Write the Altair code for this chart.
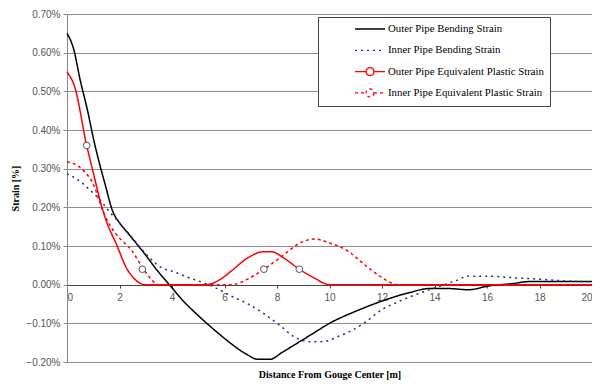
import math
import altair as alt
import pandas as pd

series_names = [
    "Outer Pipe Bending Strain",
    "Inner Pipe Bending Strain",
    "Outer Pipe Equivalent Plastic Strain",
    "Inner Pipe Equivalent Plastic Strain",
]
series_colors = ["#000000", "#2b2b8c", "#ff0000", "#ff0000"]
series_dashes = [[1, 0], [2, 4], [1, 0], [3, 3]]

# legend symbols: a short line, or a short line broken by a small ring
# (trailing move-to commands draw nothing; they keep every legend row the same height)
row_ext = "M0,0.8M0,-0.8"
line_path = "M-3,0H3" + row_ext
ring = "".join(
    ("M" if k == 0 else "L") + f"{0.8 * math.cos(k * math.pi / 8):.3f},{0.8 * math.sin(k * math.pi / 8):.3f}"
    for k in range(17)
)
marker_path = "M-3,0H-0.8M0.8,0H3" + ring + row_ext
series_symbols = [line_path, line_path, marker_path, marker_path]

outer_bend_x = [0, 0.25, 0.5, 0.8, 1.0, 1.25, 1.45, 1.74, 2.0, 2.3, 2.6, 2.9, 3.4, 3.9, 4.4, 5.0, 5.77,
                6.3, 6.79, 7.28, 7.73, 8.2, 8.8, 9.4, 10.0, 11.06, 12.06, 13.07, 13.8, 14.5, 15.3, 16.1,
                17.0, 17.6, 18.5, 20]
outer_bend_y = [0.65, 0.61, 0.53, 0.445, 0.38, 0.31, 0.26, 0.19, 0.16, 0.135, 0.11, 0.085, 0.04, 0.0,
                -0.04, -0.08, -0.126, -0.155, -0.178, -0.193, -0.193, -0.175, -0.15, -0.125, -0.10,
                -0.067, -0.041, -0.02, -0.01, -0.01, -0.013, -0.003, 0.003, 0.008, 0.008, 0.008]

inner_bend_x = [0, 0.5, 0.87, 1.25, 1.6, 2.0, 2.38, 3.0, 3.6, 4.0, 4.64, 5.2, 5.66, 6.27, 6.9, 7.5, 8.1,
                8.66, 9.3, 9.8, 10.3, 10.8, 11.3, 12.06, 12.6, 13.2, 14.08, 14.8, 15.3, 16.0, 17.0,
                18.0, 18.9, 20]
inner_bend_y = [0.287, 0.267, 0.245, 0.22, 0.19, 0.16, 0.13, 0.08, 0.044, 0.035, 0.018, 0.005, -0.008,
                -0.03, -0.05, -0.075, -0.105, -0.135, -0.148, -0.147, -0.135, -0.12, -0.10, -0.062,
                -0.045, -0.028, -0.007, 0.01, 0.022, 0.022, 0.018, 0.014, 0.01, 0.007]

outer_plastic_x = [0, 0.3, 0.75, 0.87, 1.0, 1.25, 1.5, 1.88, 2.26, 2.5, 2.75, 3.0, 5.3, 5.8, 6.27, 6.9,
                   7.47, 7.8, 8.3, 8.85, 9.4, 10.0, 20]
outer_plastic_y = [0.55, 0.51, 0.36, 0.326, 0.29, 0.22, 0.164, 0.105, 0.044, 0.02, 0.005, 0, 0, 0.012,
                   0.036, 0.07, 0.085, 0.085, 0.067, 0.04, 0.018, 0, 0]

inner_plastic_x = [0, 0.6, 1.0, 1.37, 1.62, 1.88, 2.5, 2.87, 3.13, 3.5, 6.27, 6.9, 7.5, 8.2, 8.8, 9.43,
                   10.0, 10.7, 11.3, 11.9, 12.6, 20]
inner_plastic_y = [0.318, 0.297, 0.26, 0.19, 0.155, 0.13, 0.085, 0.045, 0.02, 0.0, 0.0, 0.015, 0.04,
                   0.074, 0.105, 0.118, 0.108, 0.087, 0.054, 0.023, 0.0, 0.0]

marker_x = [0.75, 8.85, 2.87, 7.5]
marker_y = [0.36, 0.04, 0.04, 0.04]

x_ticks = [0, 2, 4, 6, 8, 10, 12, 14, 16, 18, 20]
y_ticks = [-0.2, -0.1, 0.0, 0.1, 0.2, 0.3, 0.4, 0.5, 0.6, 0.7]

rows = []
for name, xs, ys in [
    (series_names[0], outer_bend_x, outer_bend_y),
    (series_names[1], inner_bend_x, inner_bend_y),
    (series_names[2], outer_plastic_x, outer_plastic_y),
    (series_names[3], inner_plastic_x, inner_plastic_y),
]:
    for i, (xv, yv) in enumerate(zip(xs, ys)):
        rows.append({"series": name, "x": xv, "y": yv, "i": i})
df = pd.DataFrame(rows)
markers = pd.DataFrame({"x": marker_x, "y": marker_y})

xscale = alt.Scale(domain=[0, 20], nice=False, zero=False)
yscale = alt.Scale(domain=[-0.2, 0.7], nice=False, zero=False)

x_axis = alt.Axis(
    values=x_ticks, title="Distance From Gouge Center [m]", offset=-77, grid=False,
    labelFont="Liberation Sans", labelFontSize=10, labelColor="#555555",
    domainColor="#444444", tickColor="#444444", tickSize=3, labelPadding=4,
    titleFont="Liberation Serif", titleFontSize=10, titleFontWeight="bold", titleColor="#000000",
    titleY=89, titleBaseline="middle")
y_axis = alt.Axis(
    values=y_ticks, labelExpr="format(datum.value, '.2f') + '%'", title="Strain [%]",
    grid=True, gridColor="#8c8c8c", gridWidth=1.2,
    labelFont="Liberation Sans", labelFontSize=10, labelColor="#555555",
    domainColor="#888888", tickColor="#888888", tickSize=4, labelPadding=3,
    titleFont="Liberation Serif", titleFontSize=10, titleFontWeight="bold", titleColor="#000000",
    titlePadding=5)

legend = alt.Legend(
    title=None, orient="none", legendX=251, legendY=3,
    symbolSize=100, symbolStrokeWidth=1.3, symbolOffset=40, labelOffset=12,
    labelFont="Liberation Serif", labelFontSize=10.8, labelColor="#000000", labelLimit=400,
    fillColor="#ffffff", strokeColor="#444444", padding=6, rowPadding=7.3,
)

color_enc = alt.Color("series:N", scale=alt.Scale(domain=series_names, range=series_colors), legend=legend)
dash_enc = alt.StrokeDash("series:N", scale=alt.Scale(domain=series_names, range=series_dashes), legend=legend)
shape_enc = alt.Shape("series:N", scale=alt.Scale(domain=series_names, range=series_symbols), legend=legend)

lines = alt.Chart(df).mark_line(interpolate="monotone", strokeWidth=1.5).encode(
    x=alt.X("x:Q", scale=xscale, axis=x_axis),
    y=alt.Y("y:Q", scale=yscale, axis=y_axis),
    color=color_enc,
    strokeDash=dash_enc,
    order="i:Q",
)

legend_layer = alt.Chart(df).mark_point(filled=False, opacity=1).encode(
    x=alt.X("x:Q", scale=xscale, axis=x_axis),
    y=alt.Y("y:Q", scale=yscale, axis=y_axis),
    color=color_enc,
    strokeDash=dash_enc,
    shape=shape_enc,
).transform_filter("false")

points = alt.Chart(markers).mark_point(filled=True, fill="#ffffff", stroke="#555555", strokeWidth=1, size=45, opacity=1).encode(
    x=alt.X("x:Q", scale=xscale, axis=x_axis),
    y=alt.Y("y:Q", scale=yscale, axis=y_axis),
)

chart = alt.layer(lines, legend_layer, points).properties(
    width=525, height=348,
    autosize=alt.AutoSizeParams(type="none"),
    padding={"left": 59, "top": 6, "right": 0, "bottom": 21},
).configure_view(stroke="#aaaaaa", strokeWidth=1).configure(background="#ffffff")

chart.save("out.html", embed_options={"renderer": "svg", "actions": False})
